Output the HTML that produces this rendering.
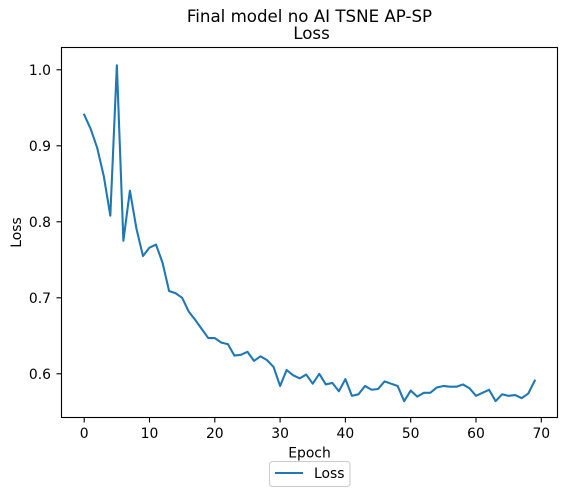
<!DOCTYPE html>
<html>
<head>
<meta charset="utf-8">
<style>
html,body{margin:0;padding:0;background:#fff;}
svg{display:block;}
text{font-family:"DejaVu Sans",sans-serif;fill:#000;}
</style>
</head>
<body>
<svg id="chart" width="567" height="496" viewBox="0 0 567 496" xmlns="http://www.w3.org/2000/svg">
<text x="309.5" y="22" text-anchor="middle" style="font-size:16.67px">Final model no AI TSNE AP-SP</text>
<text x="311.5" y="39" text-anchor="middle" style="font-size:16.67px">Loss</text>
<rect x="61.5" y="47.5" width="496" height="370" fill="none" stroke="#000" stroke-width="1.1"/>
<g id="ticks"></g>
<path id="loss-line" fill="none" stroke="#1f77b4" stroke-width="2.08" stroke-linejoin="round" stroke-linecap="square"/>
<text x="309.5" y="457.5" text-anchor="middle" style="font-size:13.9px">Epoch</text>
<text transform="translate(21,232.5) rotate(-90)" text-anchor="middle" style="font-size:13.9px">Loss</text>
<g>
<rect x="269.5" y="461.5" width="80.5" height="25" rx="3" fill="#fff" stroke="#ccc" stroke-width="1.1"/>
<line x1="275" y1="473" x2="303" y2="473" stroke="#1f77b4" stroke-width="2.08"/>
<text x="314" y="478" style="font-size:13.9px">Loss</text>
</g>
</svg>
<script>
const epochs = [0,1,2,3,4,5,6,7,8,9,10,11,12,13,14,15,16,17,18,19,20,21,22,23,24,25,26,27,28,29,30,31,32,33,34,35,36,37,38,39,40,41,42,43,44,45,46,47,48,49,50,51,52,53,54,55,56,57,58,59,60,61,62,63,64,65,66,67,68,69];
const lossValues = [0.941,0.922,0.897,0.860,0.808,1.006,0.775,0.841,0.791,0.755,0.766,0.770,0.746,0.709,0.706,0.700,0.682,0.671,0.659,0.647,0.647,0.641,0.639,0.624,0.625,0.629,0.617,0.623,0.618,0.609,0.584,0.605,0.598,0.594,0.599,0.587,0.600,0.586,0.588,0.577,0.593,0.571,0.573,0.584,0.579,0.580,0.590,0.587,0.584,0.564,0.578,0.570,0.575,0.575,0.582,0.584,0.583,0.583,0.586,0.581,0.571,0.575,0.579,0.564,0.573,0.571,0.572,0.568,0.574,0.591];
const xTickLabels = ["0","10","20","30","40","50","60","70"];
const yTickLabels = ["0.6","0.7","0.8","0.9","1.0"];

const NS = "http://www.w3.org/2000/svg";
function xScale(v){ return 84.2 + v * 6.53; }
function yScale(v){ return 373.8 - (v - 0.6) * 760; }

const ticks = document.getElementById("ticks");

xTickLabels.forEach(function(label){
  const x = xScale(parseFloat(label));
  const tick = document.createElementNS(NS, "line");
  
  
  tick.setAttribute("x1", x); tick.setAttribute("x2", x);
  tick.setAttribute("y1", 417.5); tick.setAttribute("y2", 422.5);
  tick.setAttribute("stroke", "#000"); tick.setAttribute("stroke-width", 1.1);
  ticks.appendChild(tick);
  const text = document.createElementNS(NS, "text");
  
  
  text.setAttribute("x", x); text.setAttribute("y", 438);
  text.setAttribute("text-anchor", "middle");
  text.style.fontSize = "13.9px";
  text.textContent = label;
  ticks.appendChild(text);
});

yTickLabels.forEach(function(label){
  const y = yScale(parseFloat(label));
  const tick = document.createElementNS(NS, "line");
  
  
  tick.setAttribute("x1", 56.5); tick.setAttribute("x2", 61.5);
  tick.setAttribute("y1", y); tick.setAttribute("y2", y);
  tick.setAttribute("stroke", "#000"); tick.setAttribute("stroke-width", 1.1);
  ticks.appendChild(tick);
  const text = document.createElementNS(NS, "text");
  
  
  text.setAttribute("x", 51); text.setAttribute("y", y + 5);
  text.setAttribute("text-anchor", "end");
  text.style.fontSize = "13.9px";
  text.textContent = label;
  ticks.appendChild(text);
});

document.getElementById("loss-line").setAttribute("d", epochs.map(function(e, i){
  return (i ? "L" : "M") + xScale(e).toFixed(2) + " " + yScale(lossValues[i]).toFixed(2);
}).join(" "));
</script>
</body>
</html>
